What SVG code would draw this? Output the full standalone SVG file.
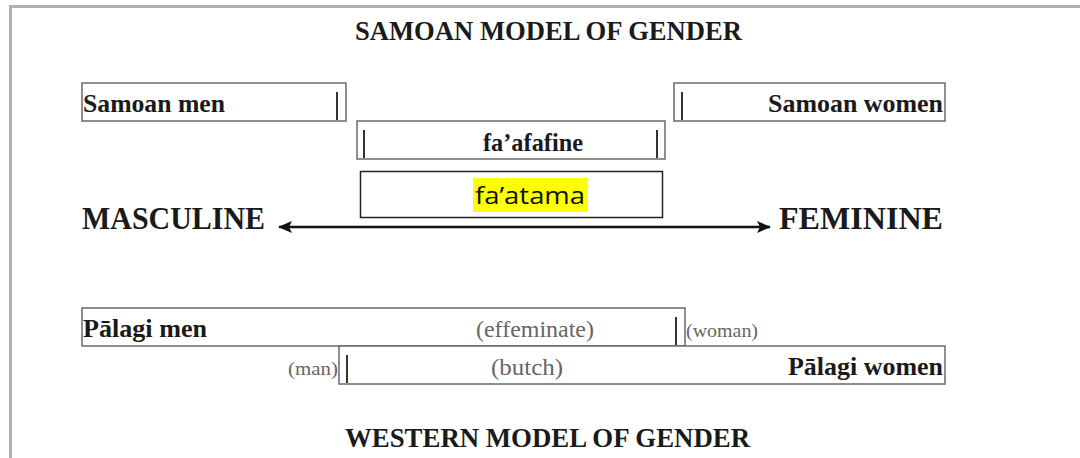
<svg xmlns="http://www.w3.org/2000/svg" width="1080" height="458" viewBox="0 0 1080 458">
<style>
.frame{fill:none;stroke:#b0b0b0;stroke-width:3}
.box{fill:#fff;stroke:#6a6a6a;stroke-width:1.5}
.tick{stroke:#333;stroke-width:2}
.b{font-family:"Liberation Serif","Times New Roman",serif;font-weight:bold;fill:#1a1a1a}
.g{font-family:"Liberation Serif","Times New Roman",serif;fill:#666}
.h{font-family:"Liberation Serif","Times New Roman",serif;font-weight:bold;fill:#1a1a1a}
</style>
<defs>
<marker id="ah" viewBox="0 0 14 12" refX="13" refY="6" markerWidth="14" markerHeight="12" markerUnits="userSpaceOnUse" orient="auto-start-reverse">
<path d="M0,0 L14,6 L0,12 L3,6 z" fill="#111"/>
</marker>
</defs>
<rect width="1080" height="458" fill="#fff"/>
<path class="frame" d="M10.5,458 V6.5 H1080"/>
<text class="h" x="355" y="40" font-size="27" textLength="387" lengthAdjust="spacingAndGlyphs">SAMOAN MODEL OF GENDER</text>
<g id="samoan-men">
<rect class="box" x="82" y="83" width="264" height="38"/>
<line class="tick" x1="337" y1="92" x2="337" y2="120"/>
<text class="b" x="83" y="112" font-size="26" textLength="142" lengthAdjust="spacingAndGlyphs">Samoan men</text>
</g>
<g id="samoan-women">
<rect class="box" x="674" y="83" width="271" height="38"/>
<line class="tick" x1="682" y1="92" x2="682" y2="120"/>
<text class="b" x="943" y="112" font-size="26" text-anchor="end" textLength="175" lengthAdjust="spacingAndGlyphs">Samoan women</text>
</g>
<g id="faafafine">
<rect class="box" x="357" y="121" width="308" height="38"/>
<line class="tick" x1="364" y1="130" x2="364" y2="158"/>
<line class="tick" x1="657" y1="130" x2="657" y2="158"/>
<text class="b" x="533" y="151" font-size="26" text-anchor="middle" textLength="100" lengthAdjust="spacingAndGlyphs">fa’afafine</text>
</g>
<g id="faatama">
<rect x="360.5" y="171.5" width="302" height="46" fill="#fff" stroke="#222" stroke-width="1.5"/>
<rect x="473" y="178" width="115" height="34" fill="#ffff00"/>
<text x="530" y="204" font-size="24" text-anchor="middle" font-family="'Open Sans','DejaVu Sans',sans-serif" fill="#111" textLength="110" lengthAdjust="spacingAndGlyphs">fa’atama</text>
</g>
<g id="masculine">
<text class="h" x="82" y="229" font-size="31" textLength="183" lengthAdjust="spacingAndGlyphs">MASCULINE</text>
</g>
<g id="feminine">
<text class="h" x="779" y="229" font-size="31" textLength="164" lengthAdjust="spacingAndGlyphs">FEMININE</text>
</g>
<g id="connectors">
<line x1="279" y1="227" x2="770" y2="227" stroke="#111" stroke-width="2.5" marker-start="url(#ah)" marker-end="url(#ah)"/>
</g>
<g id="palagi-men">
<rect class="box" x="82" y="308" width="603" height="38"/>
<line class="tick" x1="676" y1="317" x2="676" y2="345"/>
<text class="b" x="83" y="337" font-size="26" textLength="124" lengthAdjust="spacingAndGlyphs">Pālagi men</text>
<text class="g" x="535" y="337" font-size="23" text-anchor="middle" textLength="118" lengthAdjust="spacingAndGlyphs">(effeminate)</text>
</g>
<text class="g" x="686" y="337" font-size="18" textLength="72" lengthAdjust="spacingAndGlyphs">(woman)</text>
<g id="palagi-women">
<rect class="box" x="339" y="346" width="606" height="38"/>
<line class="tick" x1="347" y1="355" x2="347" y2="383"/>
<text class="g" x="527" y="375" font-size="23" text-anchor="middle" textLength="72" lengthAdjust="spacingAndGlyphs">(butch)</text>
<text class="b" x="943" y="375" font-size="26" text-anchor="end" textLength="155" lengthAdjust="spacingAndGlyphs">Pālagi women</text>
</g>
<text class="g" x="338" y="375" font-size="18" text-anchor="end" textLength="50" lengthAdjust="spacingAndGlyphs">(man)</text>
<text class="h" x="345" y="447" font-size="27" textLength="405" lengthAdjust="spacingAndGlyphs">WESTERN MODEL OF GENDER</text>
</svg>
